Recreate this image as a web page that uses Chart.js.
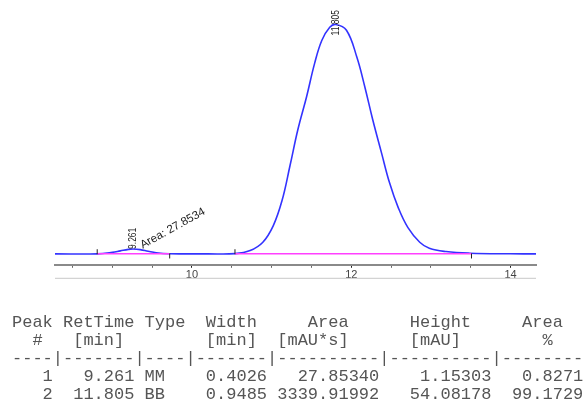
<!DOCTYPE html>
<html>
<head>
<meta charset="utf-8">
<script src="https://cdn.jsdelivr.net/npm/chart.js@4"></script>
<style>
  body { margin: 0; background: #fff; }
  #wrap { position: relative; width: 586px; height: 401px; }
  #chart { position: absolute; left: 0; top: 0; }
  #peaks { position: absolute; left: 12px; top: 314px; margin: 0; font: 17px/17.9px "Liberation Mono", monospace; color: #555; }
</style>
</head>
<body>
<div id="wrap">
  <canvas id="chart" width="586" height="401"></canvas>
  <pre id="peaks"></pre>
</div>
<script>
// signal trace (min / mAU)
const times = [8.28, 8.81, 9.0, 9.1, 9.2, 9.261, 9.35, 9.45, 9.55, 9.72, 10.2, 10.54, 10.73, 10.89, 11.02, 11.13, 11.23, 11.33,
  11.44, 11.54, 11.63, 11.73, 11.805, 11.94, 12.07, 12.17, 12.27, 12.38, 12.48, 12.59, 12.71, 12.86, 12.98, 13.19, 13.49, 14.0, 14.32];
const signal = [0, 0, 0.35, 0.7, 1.05, 1.15, 1.0, 0.6, 0.25, 0.03, 0, 0.05, 0.77, 2.74, 6.6, 12.5, 20.7, 29.3,
  37.1, 44.9, 50.3, 53.4, 54.08, 52.7, 46.4, 39.4, 31.6, 23.8, 16.8, 10.9, 6.25, 2.74, 1.33, 0.54, 0.16, 0.02, 0];

// integration baselines and start/stop events
const base1 = [8.81, 9.72];
const base2 = [10.54, 13.51];
const markTimes = [8.81, 9.72, 10.54, 13.51];
const markVals = [0.5, -0.5, 0.5, -0.5];

// peak table
const peakNums = ["1", "2"];
const retTimes = ["9.261", "11.805"];
const types = ["MM", "BB"];
const widths = ["0.4026", "0.9485"];
const areas = ["27.85340", "3339.91992"];
const heights = ["1.15303", "54.08178"];
const areaPct = ["0.8271", "99.1729"];
const areaNote = "Area: 27.8534";

const xTicks = [10, 12, 14];

// table text
let rows = [
  "Peak RetTime Type  Width     Area      Height     Area",
  "  #   [min]        [min]  [mAU*s]      [mAU]        %",
  "----|-------|----|-------|----------|----------|--------"
];
for (let i = 0; i < peakNums.length; i++) {
  rows.push(peakNums[i].padStart(4) + retTimes[i].padStart(8) + " " + types[i].padEnd(4) +
    widths[i].padStart(8) + areas[i].padStart(11) + heights[i].padStart(11) + areaPct[i].padStart(9));
}
document.getElementById("peaks").textContent = rows.join("\n");

const pts = (xs, ys) => xs.map((t, i) => ({ x: t, y: ys[i] }));

const peakNotes = {
  id: "peakNotes",
  afterDatasetsDraw(chart) {
    const { ctx, chartArea } = chart;
    const x = chart.scales.x, y = chart.scales.y;
    ctx.save();
    ctx.fillStyle = "#222";
    ctx.font = '10px "Liberation Sans", Arial, sans-serif';
    ctx.textBaseline = "middle";
    ctx.textAlign = "left";
    retTimes.forEach((rt, i) => {
      const px = x.getPixelForValue(+rt);
      const py = y.getPixelForValue(+heights[i]);
      ctx.save();
      ctx.translate(px, py + (i === 0 ? 0 : 11));
      ctx.rotate(-Math.PI / 2);
      ctx.scale(0.85, 1.05);
      ctx.fillText(rt, 0, 0);
      ctx.restore();
    });
    // area note on the small peak
    const ax = x.getPixelForValue(+retTimes[0]);
    const ay = y.getPixelForValue(+heights[0]);
    ctx.save();
    ctx.translate(ax + 8, ay - 3);
    ctx.rotate(-29 * Math.PI / 180);
    ctx.font = '11.5px "Liberation Sans", Arial, sans-serif';
    ctx.fillText(areaNote, 0, 0);
    ctx.restore();
    // lower frame line
    ctx.strokeStyle = "#c8c8c8";
    ctx.lineWidth = 1;
    ctx.beginPath();
    ctx.moveTo(chartArea.left, chartArea.bottom + 13.5);
    ctx.lineTo(chartArea.right, chartArea.bottom + 13.5);
    ctx.stroke();
    ctx.restore();
  }
};

new Chart(document.getElementById("chart"), {
  type: "line",
  data: {
    datasets: [
      { label: "baseline 1", data: pts(base1, [0, 0]), borderColor: "#ff40ff", borderWidth: 1.5, pointRadius: 0, order: 1 },
      { label: "baseline 2", data: pts(base2, [0, 0]), borderColor: "#ff40ff", borderWidth: 1.5, pointRadius: 0, order: 1 },
      { label: "events", data: pts(markTimes, markVals), showLine: false, pointStyle: "line", rotation: 90,
        pointRadius: 2.5, borderColor: "#222", borderWidth: 1, order: 0 },
      { label: "signal", data: pts(times, signal), borderColor: "#3333ff", borderWidth: 1.6, pointRadius: 0,
        tension: 0.4, order: 2 }
    ]
  },
  options: {
    responsive: false,
    animation: false,
    layout: { padding: { left: 55, right: 50, top: 5, bottom: 118 } },
    plugins: { legend: { display: false }, tooltip: { enabled: false } },
    scales: {
      x: {
        type: "linear", min: 8.28, max: 14.32,
        ticks: {
          stepSize: 0.5, includeBounds: false, autoSkip: false, maxRotation: 0, padding: 1,
          color: "#444", font: { size: 11, family: "Liberation Sans" },
          callback: v => xTicks.includes(v) ? String(v) : ""
        },
        grid: { drawOnChartArea: false, drawTicks: true, tickLength: 3, tickWidth: 1,
          tickColor: c => xTicks.includes(c.tick && c.tick.value) ? "#222" : "#666" },
        border: { display: true, color: "#8a8a8a", width: 2 }
      },
      y: { display: false, min: -2.58, max: 58.66 }
    }
  },
  plugins: [peakNotes]
});
</script>
</body>
</html>
